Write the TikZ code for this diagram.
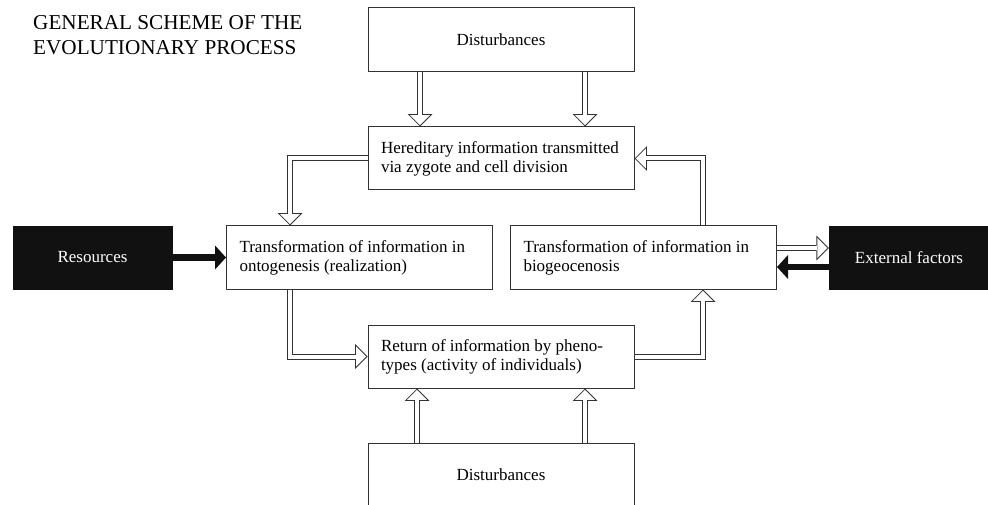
\documentclass[tikz,border=0pt]{standalone}
\usepackage{fontspec}
\setmainfont{Liberation Serif}
\usetikzlibrary{arrows.meta}
\definecolor{edge}{HTML}{333333}
\definecolor{dark}{HTML}{111111}
\begin{document}
\begin{tikzpicture}[x=1pt,y=-1pt,
  box/.style={draw=edge, line width=1pt, fill=white, inner xsep=13pt, inner ysep=0pt,
    text width=240pt, align=flush left, minimum height=63pt, font=\fontsize{17}{19}\selectfont},
  dbox/.style={draw=edge, line width=1pt, fill=white, minimum width=266pt, minimum height=64pt,
    inner sep=0pt, font=\fontsize{17}{19}\selectfont},
  blackbox/.style={fill=dark, draw=dark, text=white, minimum height=63pt, inner sep=0pt,
    font=\fontsize{17}{19}\selectfont},
  hollow/.style={draw=white, line width=4pt,
    -{Triangle[length=10pt,width=20pt,line width=0pt,fill=white]}, shorten >=1.41pt,
    preaction={draw=edge, line width=6pt, shorten >=0pt,
      -{Triangle[length=12.4pt,width=24.8pt,line width=0pt]}}},
  heavy/.style={draw=dark, line width=6.5pt, -{Triangle[length=11pt,width=24pt,line width=0pt]}},
]
\useasboundingbox (0,0) rectangle (988,505);
\clip (0,0) rectangle (988,505);

\node[anchor=north west, inner sep=0pt, align=left, font=\fontsize{21.2}{25}\selectfont]
  (title) at (33,15) {GENERAL SCHEME OF THE\\EVOLUTIONARY PROCESS};

\node[dbox] (dtop) at (501,40) {Disturbances};
\node[box] (hered) at (501,158.5) {\mbox{Hereditary information transmitted}\\\mbox{via zygote and cell division}};
\node[box] (onto) at (359.5,257.5) {\mbox{Transformation of information in}\\\mbox{ontogenesis (realization)}};
\node[box] (bio) at (643.5,257.5) {\mbox{Transformation of information in}\\\mbox{biogeocenosis}};
\node[box] (ret) at (501,356.5) {\mbox{Return of information by pheno-}\\\mbox{types (activity of individuals)}};
\node[dbox] (dbot) at (501,475) {Disturbances};
\node[blackbox, minimum width=159pt] (res) at (92.5,257.5) {Resources};
\node[blackbox, minimum width=160pt] (ext) at (909,257.5) {External factors};

\coordinate (xL) at (290,0);
\coordinate (xR) at (703,0);
\coordinate (xa) at (420,0);
\coordinate (xb) at (585,0);
\coordinate (xc) at (417,0);
\coordinate (yE) at (0,248);
\coordinate (yK) at (0,267);

\draw[hollow] (dtop.south -| xa) -- (hered.north -| xa);
\draw[hollow] (dtop.south -| xb) -- (hered.north -| xb);
\draw[hollow] (hered.west) -| (onto.north -| xL);
\draw[hollow] (bio.north -| xR) |- (hered.east);
\draw[hollow] (onto.south -| xL) |- (ret.west);
\draw[hollow] (ret.east) -| (bio.south -| xR);
\draw[hollow] (dbot.north -| xc) -- (ret.south -| xc);
\draw[hollow] (dbot.north -| xb) -- (ret.south -| xb);
\draw[hollow] (bio.east |- yE) -- (ext.west |- yE);
\draw[heavy] (res.east) -- (onto.west);
\draw[heavy] (ext.west |- yK) -- (bio.east |- yK);
\end{tikzpicture}
\end{document}
